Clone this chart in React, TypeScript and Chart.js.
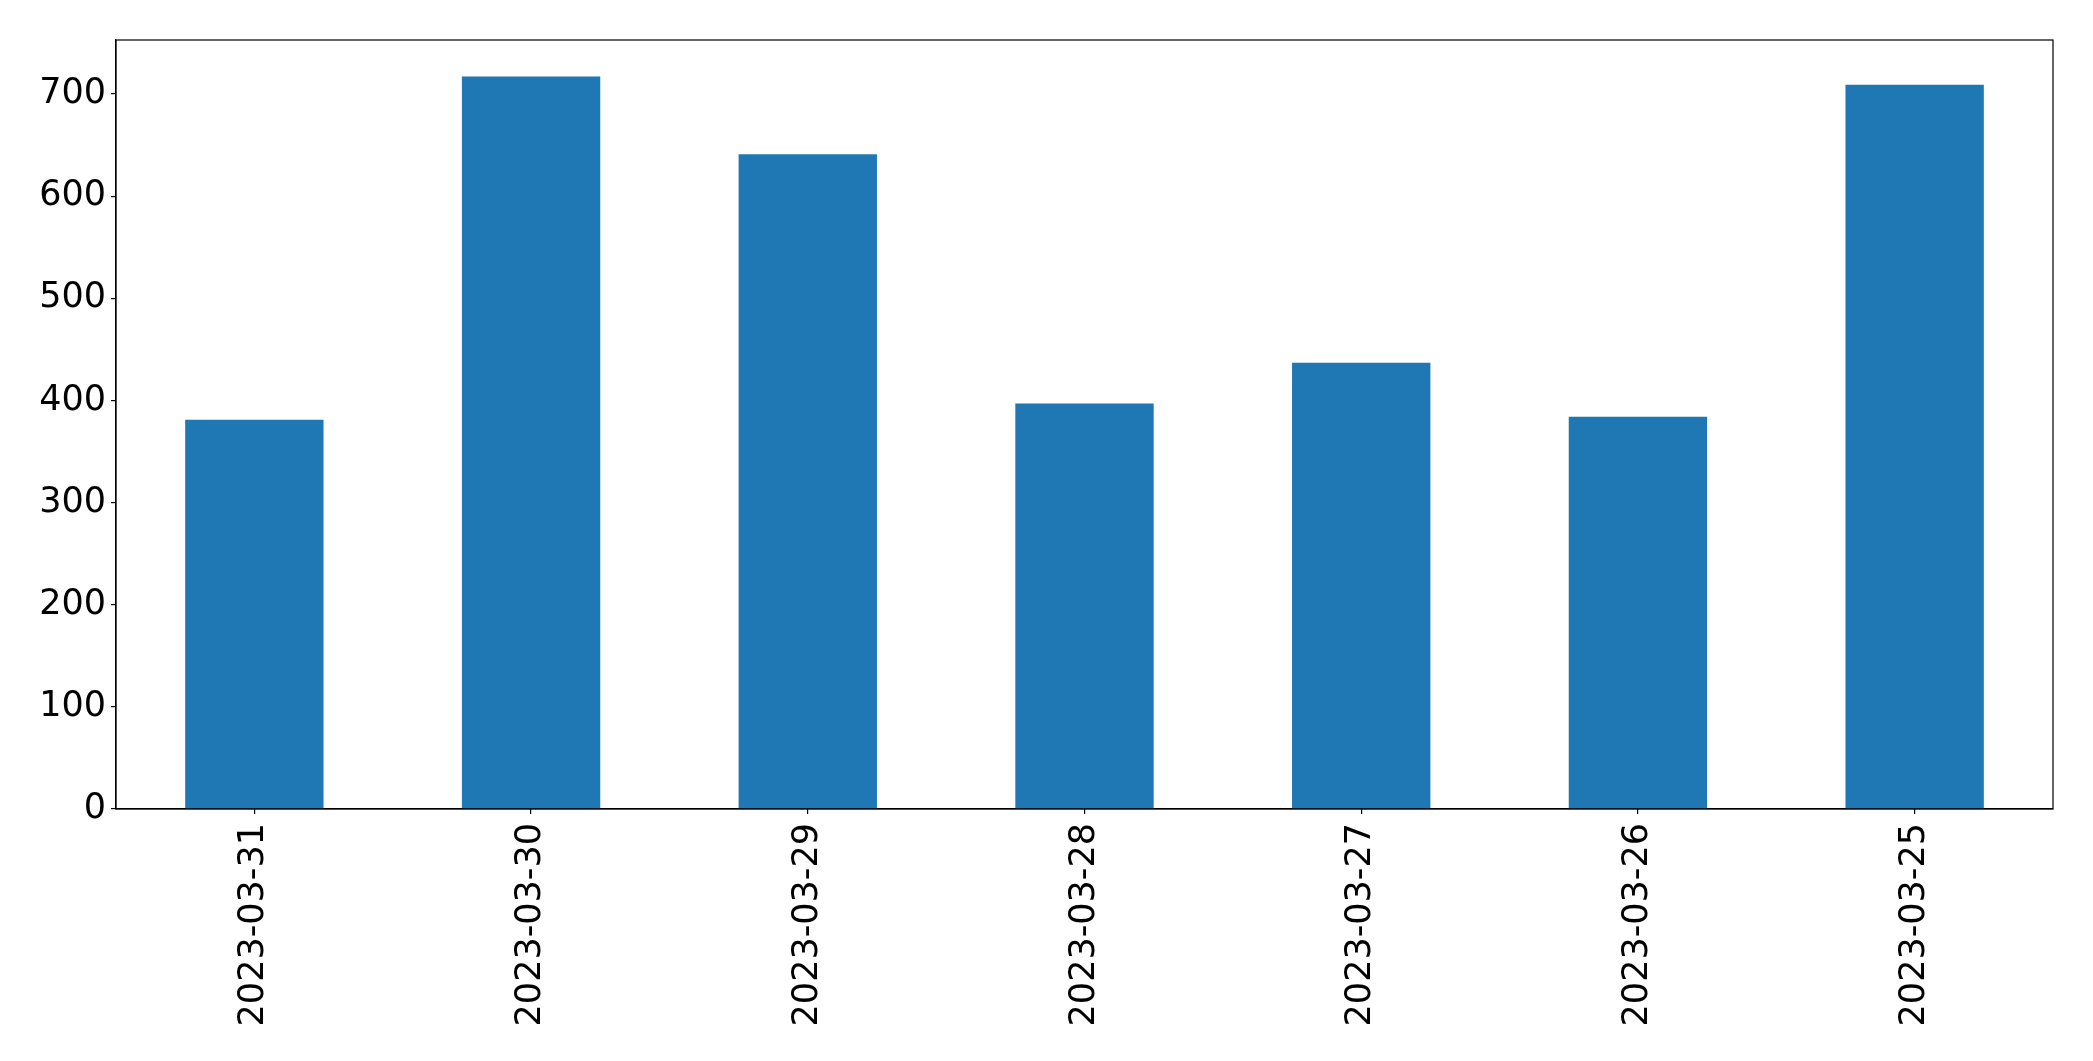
import React, { useEffect, useRef } from "react";
import { Chart, registerables } from "chart.js";

Chart.register(...registerables);

const categories = [
  "2023-03-31",
  "2023-03-30",
  "2023-03-29",
  "2023-03-28",
  "2023-03-27",
  "2023-03-26",
  "2023-03-25",
];
const values = [381, 717, 641, 397, 437, 384, 709];
const yTicks = [0, 100, 200, 300, 400, 500, 600, 700];

const W = 2093;
const H = 1061;
const FONT = "'DejaVu Sans', sans-serif";

const frame = {
  id: "frame",
  afterDraw(chart: any) {
    const { ctx, chartArea } = chart;
    ctx.save();
    ctx.strokeStyle = "#000";
    ctx.lineWidth = 1.2;
    ctx.strokeRect(chartArea.left, chartArea.top, chartArea.right - chartArea.left, chartArea.bottom - chartArea.top);
    ctx.restore();
  },
};

export default function App() {
  const ref = useRef<HTMLCanvasElement | null>(null);
  useEffect(() => {
    if (!ref.current) return;
    const yMax = Math.max(...values) * 1.05;
    const chart = new Chart(ref.current, {
      type: "bar",
      data: {
        labels: categories,
        datasets: [
          {
            data: values,
            backgroundColor: "#1f77b4",
            borderWidth: 0,
            barPercentage: 0.5,
            categoryPercentage: 1,
          },
        ],
      },
      options: {
        animation: false,
        responsive: false,
        devicePixelRatio: 1,
        layout: { padding: { left: 0, top: 40, right: 40, bottom: 0 } },
        plugins: { legend: { display: false }, tooltip: { enabled: false } },
        scales: {
          x: {
            offset: true,
            grid: { display: true, offset: false, drawOnChartArea: false, tickLength: 5, color: "#000", lineWidth: 1.2 },
            border: { display: true, color: "#000", width: 1.2 },
            ticks: {
              color: "#000",
              font: { family: FONT, size: 35 },
              minRotation: 90,
              maxRotation: 90,
              padding: 9,
              autoSkip: false,
            },
            afterFit(scale: any) {
              scale.height = H - 809;
            },
          },
          y: {
            min: 0,
            max: yMax,
            grid: { display: true, drawOnChartArea: false, tickLength: 5, color: "#000", lineWidth: 1.2 },
            border: { display: true, color: "#000", width: 1.2 },
            ticks: {
              color: "#000",
              font: { family: FONT, size: 35 },
              padding: 5,
              includeBounds: false,
              stepSize: 100,
            },
            afterBuildTicks(scale: any) {
              scale.ticks = yTicks.map((v) => ({ value: v }));
            },
            afterFit(scale: any) {
              scale.width = 116;
            },
          },
        },
      },
      plugins: [frame],
    });
    return () => chart.destroy();
  }, []);
  return (
    <div style={{ position: "fixed", left: 0, top: 0, width: W, height: H, background: "#fff" }}>
      <canvas ref={ref} width={W} height={H} style={{ width: W, height: H, display: "block" }} />
    </div>
  );
}
